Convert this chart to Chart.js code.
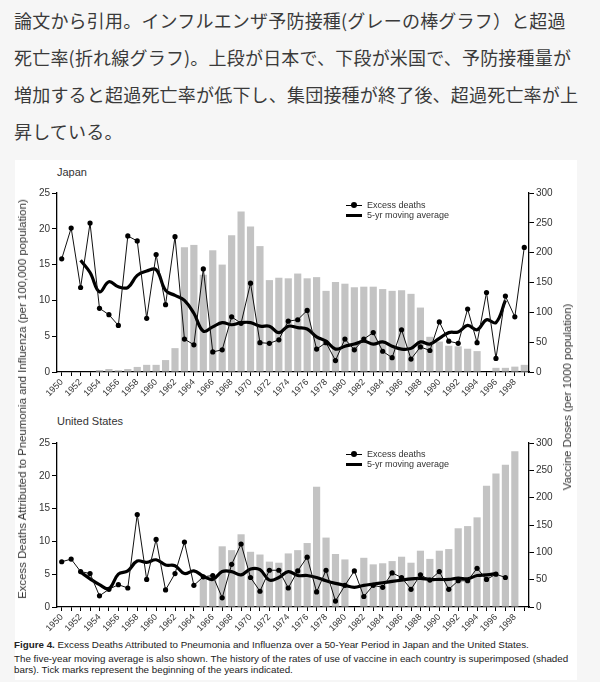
<!DOCTYPE html>
<html>
<head>
<meta charset="utf-8">
<script src="https://cdn.jsdelivr.net/npm/chart.js@4.4.1/dist/chart.umd.min.js"></script>
<style>
  body { margin: 0; width: 600px; height: 682px; background: #f6f6f6; position: relative; overflow: hidden;
         font-family: 'Liberation Sans', Arial, sans-serif; color: #333; }
  #intro { position: absolute; left: 14px; top: 2px; font-family: 'Noto Sans CJK JP', sans-serif; font-size: 18px;
           line-height: 37px; color: #3a3a3a; white-space: nowrap; letter-spacing: 0.2px; }
  #figura { position: absolute; left: 15px; top: 160px; width: 562px; height: 520px; background: #fff; }
  canvas { position: absolute; left: 15px; }
  .titulo { position: absolute; left: 57px; font-size: 11px; color: #333; }
  .eje { position: absolute; font-size: 11.4px; color: #333; white-space: nowrap;
         transform: translate(-50%, -50%) rotate(-90deg); }
  .leyenda { position: absolute; left: 346px; font-size: 9px; color: #333; }
  .fila { position: relative; height: 10px; line-height: 10px; padding-left: 21px; white-space: nowrap; }
  .fina { position: absolute; left: 0; top: 5px; width: 16px; height: 1px; background: #000; }
  .fina::after { content: ''; position: absolute; left: 5px; top: -3px; width: 6px; height: 6px; border-radius: 50%; background: #000; }
  .gruesa { position: absolute; left: 0; top: 4px; width: 16px; height: 3px; background: #000; }
  #pie { position: absolute; left: 14px; top: 639px; font-size: 9.8px; line-height: 11px; color: #222; white-space: nowrap; }
</style>
</head>
<body>
<div id="intro">論文から引用。インフルエンザ予防接種(グレーの棒グラフ）と超過<br>死亡率(折れ線グラフ)。上段が日本で、下段が米国で、予防接種量が<br>増加すると超過死亡率が低下し、集団接種が終了後、超過死亡率が上<br>昇している。</div>
<div id="figura"></div>

<div class="titulo" style="top:166px">Japan</div>
<canvas id="grafico-japon" width="562" height="215" style="top:185px"></canvas>
<div class="leyenda" style="top:200px">
  <div class="fila"><span class="fina"></span>Excess deaths</div>
  <div class="fila"><span class="gruesa"></span>5-yr moving average</div>
</div>

<div class="titulo" style="top:415px">United States</div>
<canvas id="grafico-eeuu" width="562" height="200" style="top:435px"></canvas>
<div class="leyenda" style="top:449px">
  <div class="fila"><span class="fina"></span>Excess deaths</div>
  <div class="fila"><span class="gruesa"></span>5-yr moving average</div>
</div>

<div class="eje" style="left:22px; top:399px">Excess Deaths Attributed to Pneumonia and Influenza (per 100,000 population)</div>
<div class="eje" style="left:567px; top:397px">Vaccine Doses (per 1000 population)</div>

<div id="pie"><b>Figure 4.</b> Excess Deaths Attributed to Pneumonia and Influenza over a 50-Year Period in Japan and the United States.<br>
<div style="height:3px"></div>The five-year moving average is also shown. The history of the rates of use of vaccine in each country is superimposed (shaded<br>bars). Tick marks represent the beginning of the years indicated.</div>

<script>
// años (eje x)
const anios = ['1950','1951','1952','1953','1954','1955','1956','1957','1958','1959',
  '1960','1961','1962','1963','1964','1965','1966','1967','1968','1969',
  '1970','1971','1972','1973','1974','1975','1976','1977','1978','1979',
  '1980','1981','1982','1983','1984','1985','1986','1987','1988','1989',
  '1990','1991','1992','1993','1994','1995','1996','1997','1998','1999'];

// Japón
const muertesJapon = [15.8, 20.1, 11.8, 20.8, 8.9, 8.0, 6.5, 19.0, 18.3, 7.5,
  16.4, 9.4, 18.9, 4.6, 3.8, 14.4, 2.8, 3.1, 7.7, 6.8,
  12.4, 4.1, 4.0, 4.5, 7.1, 7.3, 8.6, 3.2, 4.1, 1.6,
  4.6, 3.1, 4.6, 5.5, 2.9, 2.0, 5.9, 1.8, 3.5, 3.0,
  7.0, 4.3, 4.0, 8.8, 4.1, 11.1, 1.9, 10.6, 7.7, 17.4];
const mediaJapon = [null, null, 15.6, 13.9, 11.2, 12.6, 11.9, 11.8, 13.5, 14.1,
  14.3, 11.4, 10.7, 10.0, 8.2, 5.7, 6.3, 6.9, 6.6, 6.9,
  6.9, 6.4, 6.4, 5.5, 6.4, 6.2, 6.0, 4.9, 4.3, 3.2,
  3.6, 3.9, 4.3, 3.9, 4.2, 3.6, 3.2, 3.3, 4.2, 3.9,
  4.7, 5.5, 5.6, 6.5, 5.9, 7.3, 6.9, 10.0, null, null];
const vacunasJapon = [0, 0, 0, 0, 3.3, 5, 3, 5, 8.5, 12,
  12, 20, 40, 209, 213, 163, 204, 180, 229, 269,
  244, 211, 154, 158, 157, 165, 157, 159, 136, 151,
  148, 142, 143, 143, 139, 136, 137, 131, 108, 59,
  51, 44, 43, 39, 35, 0, 7, 7, 9, 12];

// Estados Unidos
const muertesEEUU = [6.9, 7.3, 5.4, 5.1, 1.7, 2.7, 3.4, 2.9, 14.1, 4.2,
  10.3, 2.6, 5.1, 9.9, 3.3, 4.6, 4.8, 1.4, 6.5, 9.6,
  4.5, 2.4, 5.6, 5.6, 2.9, 5.5, 7.6, 2.3, 5.6, 0.9,
  3.3, 5.5, 1.6, 3.3, 3.0, 5.2, 4.5, 2.7, 4.9, 4.1,
  5.4, 2.7, 4.0, 4.0, 5.9, 4.2, 5.0, 4.5, null, null];
const mediaEEUU = [null, null, 5.3, 4.3, 3.4, 2.8, 5.0, 5.5, 7.0, 6.8,
  7.2, 6.4, 6.3, 5.1, 5.5, 4.7, 4.2, 5.4, 5.4, 4.9,
  5.8, 5.7, 4.1, 4.5, 5.4, 4.8, 4.8, 4.5, 4.0, 3.6,
  3.3, 3.0, 3.3, 3.5, 3.7, 3.9, 4.1, 4.3, 4.35, 4.2,
  4.2, 4.2, 4.4, 4.3, 4.8, 4.9, 5.1, null, null, null];
const vacunasEEUU = [0, 0, 0, 0, 0, 0, 0, 0, 0, 0,
  0, 0, 0, 0, 0, 52, 55, 111, 104, 133,
  101, 96, 83, 81, 98, 104, 117, 220, 127, 97,
  87, 0, 90, 78, 80, 84, 92, 81, 103, 88,
  103, 106, 144, 148, 164, 222, 244, 260, 285, 0];

const fuenteTicks = { family: "'Liberation Sans', Arial, sans-serif", size: 10 };

function crearGrafico(id, muertes, media, vacunas) {
  const ctx = document.getElementById(id).getContext('2d');
  return new Chart(ctx, {
    type: 'bar',
    data: {
      labels: anios,
      datasets: [
        {
          type: 'line',
          label: 'Excess deaths',
          data: muertes,
          yAxisID: 'y',
          borderColor: '#111',
          borderWidth: 1,
          pointRadius: 2.6,
          pointBackgroundColor: '#000',
          pointBorderWidth: 0,
          tension: 0,
          order: 1
        },
        {
          type: 'line',
          label: '5-yr moving average',
          data: media,
          yAxisID: 'y',
          borderColor: '#000',
          borderWidth: 3.2,
          pointRadius: 0,
          tension: 0.4,
          order: 2
        },
        {
          type: 'bar',
          label: 'Vaccine doses',
          data: vacunas,
          yAxisID: 'y2',
          backgroundColor: '#c3c3c3',
          barPercentage: 0.76,
          categoryPercentage: 1.0,
          order: 3
        }
      ]
    },
    options: {
      responsive: false,
      animation: false,
      layout: { padding: { top: 7, left: 0, right: 0, bottom: 0 } },
      plugins: { legend: { display: false }, tooltip: { enabled: false } },
      scales: {
        x: {
          offset: true,
          grid: { display: true, drawOnChartArea: false, drawTicks: true, tickLength: 4, offset: false, color: '#000' },
          border: { display: true, color: '#000', width: 1.3 },
          ticks: {
            autoSkip: false, maxRotation: 45, minRotation: 45, padding: 1, color: '#333',
            font: { family: fuenteTicks.family, size: 9 },
            callback: function (valor, i) { return i % 2 === 0 ? this.getLabelForValue(valor) : ''; }
          },
          afterFit: escala => { escala.height = 28; }
        },
        y: {
          position: 'left', min: 0, max: 25,
          grid: { drawOnChartArea: false, tickLength: 5, color: '#000' },
          border: { display: true, color: '#000', width: 1.3 },
          ticks: { stepSize: 5, padding: 2, color: '#333', font: fuenteTicks },
          afterFit: escala => { escala.width = 42; }
        },
        y2: {
          position: 'right', min: 0, max: 300,
          grid: { drawOnChartArea: false, tickLength: 5, color: '#000' },
          border: { display: true, color: '#000', width: 1.3 },
          ticks: { stepSize: 50, padding: 2, color: '#333', font: fuenteTicks },
          afterFit: escala => { escala.width = 48; }
        }
      }
    }
  });
}

crearGrafico('grafico-japon', muertesJapon, mediaJapon, vacunasJapon);
crearGrafico('grafico-eeuu', muertesEEUU, mediaEEUU, vacunasEEUU);
</script>
</body>
</html>
